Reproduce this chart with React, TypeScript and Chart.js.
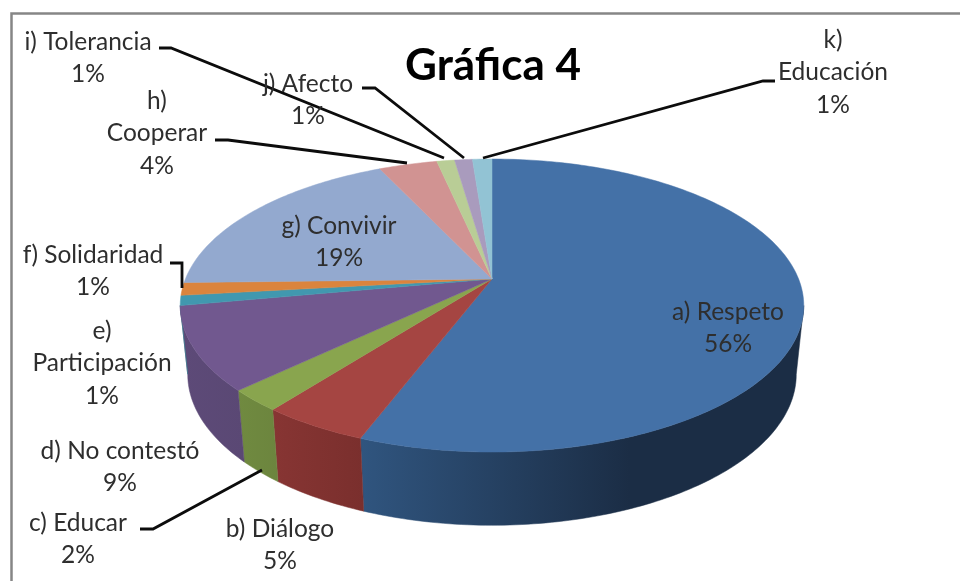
import React, { useEffect, useRef } from "react";
import { Chart, registerables } from "chart.js";

Chart.register(...registerables);

const categories = ["a) Respeto", "b) Diálogo", "c) Educar", "d) No contestó", "e) Participación", "f) Solidaridad", "g) Convivir", "h) Cooperar", "i) Tolerancia", "j) Afecto", "k) Educación"];
const printedPercent = ["56%", "5%", "2%", "9%", "1%", "1%", "19%", "4%", "1%", "1%", "1%"];
const sliceValues = [55.8, 4.7, 2.4, 9.2, 1.1, 1.4, 18.4, 3.6, 1.1, 1.1, 1.2];
const topColors = ["#4471A7", "#A54542", "#89A54E", "#71588F", "#4198AF", "#DB843D", "#93A9CF", "#D19392", "#B9CD96", "#A99BBD", "#92C3D4"];
const wallLeft = ["#30557f", "#873533", "#708a40", "#5d4a78", "#35798c", "#b06a30", "#7587a6", "#a77675", "#94a478", "#877c97", "#759caa"];
const wallRight = ["#1b2d45", "#7a2f2d", "#6c853e", "#5a4874", "#35798c", "#b06a30", "#7587a6", "#a77675", "#94a478", "#877c97", "#759caa"];
const splitLabel = [false, false, false, false, true, false, false, true, false, false, true];

const TITLE = "Gráfica 4";
const FONT = "Lato";

// projection of the pie disc
const CX = 492, R = 306.6, K = 0.181;
const TOP_Y = 279, TOP_B = 141.7;
const BOT_Y = 347, BOT_B = 146, BOT_SX = 0.976;

const labelPos: [number, number][] = [
  [728, 312], [280, 529], [78, 523], [120, 451], [102, 331], [93, 255],
  [339, 226], [157, 101], [88, 42], [308, 84], [833, 40],
];
const leaders: Record<number, [number, number][]> = {
  2: [[140, 529], [153, 529], [262, 470]],
  5: [[170, 263], [182, 263], [182, 288]],
  7: [[215, 140], [228, 140], [407, 163]],
  8: [[159, 48], [171, 48], [444, 158]],
  9: [[362, 88], [375, 88], [464, 158]],
  10: [[775, 81], [763, 81], [483, 158]],
};

function project(theta: number, bottom: boolean): [number, number] {
  const u = Math.sin(theta);
  const v = -Math.cos(theta);
  const w = 1 - K * v;
  if (bottom) return [CX + (BOT_SX * R * u) / w, BOT_Y + (BOT_B * v) / w];
  return [CX + (R * u) / w, TOP_Y + (TOP_B * v) / w];
}

const pie3d = {
  id: "pie3d",
  beforeDatasetsDraw(chart: any) {
    const ctx: CanvasRenderingContext2D = chart.ctx;
    const arcs = chart.getDatasetMeta(0).data;
    const wallStart = Math.acos(-K);
    const wallEnd = 2 * Math.PI - wallStart;

    arcs.forEach((arc: any, i: number) => {
      const a0 = Math.max(arc.startAngle + Math.PI / 2, wallStart);
      const a1 = Math.min(arc.endAngle + Math.PI / 2, wallEnd);
      if (a1 <= a0) return;
      const n = Math.max(4, Math.ceil((a1 - a0) * 60));
      const pts: [number, number][] = [];
      for (let s = 0; s <= n; s++) pts.push(project(a0 + ((a1 - a0) * s) / n, false));
      for (let s = n; s >= 0; s--) pts.push(project(a0 + ((a1 - a0) * s) / n, true));
      const xs = pts.map((p) => p[0]);
      const xMin = Math.min(...xs);
      const xMax = i === 0 ? 630 : Math.max(...xs);
      const g = ctx.createLinearGradient(xMin, 0, xMax, 0);
      g.addColorStop(0, wallLeft[i]);
      g.addColorStop(1, wallRight[i]);
      ctx.beginPath();
      pts.forEach((p, j) => (j ? ctx.lineTo(p[0], p[1]) : ctx.moveTo(p[0], p[1])));
      ctx.closePath();
      ctx.fillStyle = g;
      ctx.strokeStyle = g;
      ctx.lineWidth = 0.5;
      ctx.fill();
      ctx.stroke();
    });

    arcs.forEach((arc: any, i: number) => {
      const a0 = arc.startAngle + Math.PI / 2;
      const a1 = arc.endAngle + Math.PI / 2;
      const n = Math.max(4, Math.ceil((a1 - a0) * 60));
      ctx.beginPath();
      ctx.moveTo(CX, TOP_Y);
      for (let s = 0; s <= n; s++) {
        const p = project(a0 + ((a1 - a0) * s) / n, false);
        ctx.lineTo(p[0], p[1]);
      }
      ctx.closePath();
      ctx.fillStyle = topColors[i];
      ctx.strokeStyle = topColors[i];
      ctx.lineWidth = 0.5;
      ctx.fill();
      ctx.stroke();
    });
    return false;
  },
  afterDraw(chart: any) {
    const ctx: CanvasRenderingContext2D = chart.ctx;
    ctx.save();

    ctx.strokeStyle = "#868686";
    ctx.lineWidth = 2.5;
    ctx.beginPath();
    ctx.moveTo(11.5, 581);
    ctx.lineTo(11.5, 13.5);
    ctx.lineTo(960, 13.5);
    ctx.stroke();

    ctx.strokeStyle = "#0c0c0c";
    ctx.lineWidth = 2.8;
    ctx.lineJoin = "miter";
    Object.values(leaders).forEach((line) => {
      ctx.beginPath();
      line.forEach((p, j) => (j ? ctx.lineTo(p[0], p[1]) : ctx.moveTo(p[0], p[1])));
      ctx.stroke();
    });

    ctx.textAlign = "center";
    ctx.textBaseline = "middle";
    ctx.fillStyle = "#2e2e2e";
    ctx.font = `24.5px ${FONT}`;
    categories.forEach((name, i) => {
      const [x, y] = labelPos[i];
      let lines = [name, printedPercent[i]];
      if (splitLabel[i]) {
        const cut = name.indexOf(" ");
        lines = [name.slice(0, cut), name.slice(cut + 1), printedPercent[i]];
      }
      lines.forEach((t, j) => ctx.fillText(t, x, y + j * 32.5));
    });

    ctx.fillStyle = "#000000";
    ctx.font = `bold 44px ${FONT}`;
    ctx.fillText(TITLE, 493, 66);
    ctx.restore();
  },
};

export default function App() {
  const ref = useRef<HTMLCanvasElement>(null);
  useEffect(() => {
    document.body.style.margin = "0";
    const chart = new Chart(ref.current!, {
      type: "pie",
      data: {
        labels: categories,
        datasets: [{ data: sliceValues, backgroundColor: topColors, borderWidth: 0 }],
      },
      options: {
        animation: false,
        responsive: false,
        plugins: { legend: { display: false }, tooltip: { enabled: false } },
      },
      plugins: [pie3d],
    } as any);
    return () => chart.destroy();
  }, []);
  return (
    <canvas
      ref={ref}
      width={960}
      height={581}
      style={{ display: "block", background: "#ffffff", filter: "blur(0.5px)" }}
    />
  );
}
